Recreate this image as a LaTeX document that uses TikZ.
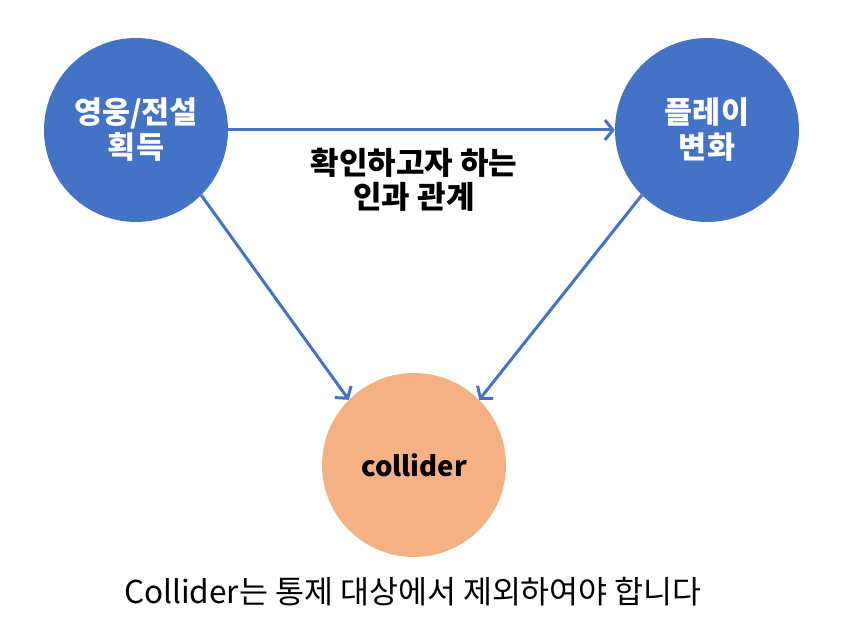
\documentclass[tikz,border=0pt]{standalone}
\usepackage{fontspec}
\setmainfont{Noto Sans CJK KR}
\usetikzlibrary{arrows.meta}
\definecolor{cblue}{HTML}{4472C4}
\definecolor{corange}{HTML}{F4B183}
\tikzset{
  circ/.style={circle, minimum size=184pt, inner sep=0pt, draw=none, align=center},
  bluec/.style={circ, fill=cblue, text=white, font=\fontsize{30.5}{35}\selectfont\bfseries},
  orangec/.style={circ, fill=corange, text=black, font=\fontsize{27.5}{32}\selectfont\bfseries},
  conn/.style={draw=cblue, line width=3pt, -{Straight Barb[length=8pt,width=20pt]}},
  midtext/.style={align=center, font=\fontsize{31}{34}\selectfont\bfseries},
  note/.style={font=\fontsize{31.5}{34}\selectfont}
}
\begin{document}
\begin{tikzpicture}[x=1pt,y=1pt]
\useasboundingbox (0,0) rectangle (849,627);
\node[bluec] (L) at (136,497) {영웅/전설\\획득};
\node[bluec] (R) at (707,497) {플레이\\변화};
\node[orangec] (C) at (414,162) {collider};
\node[midtext] (M) at (414,447) {확인하고자 하는\\인과 관계};
\node[note] (N) at (413,35) {Collider는 통제 대상에서 제외하여야 합니다};
\draw[conn] (L) -- (R);
\draw[conn] (L.-45) -- (C.135);
\draw[conn] (R.-135) -- (C.45);
\end{tikzpicture}
\end{document}
